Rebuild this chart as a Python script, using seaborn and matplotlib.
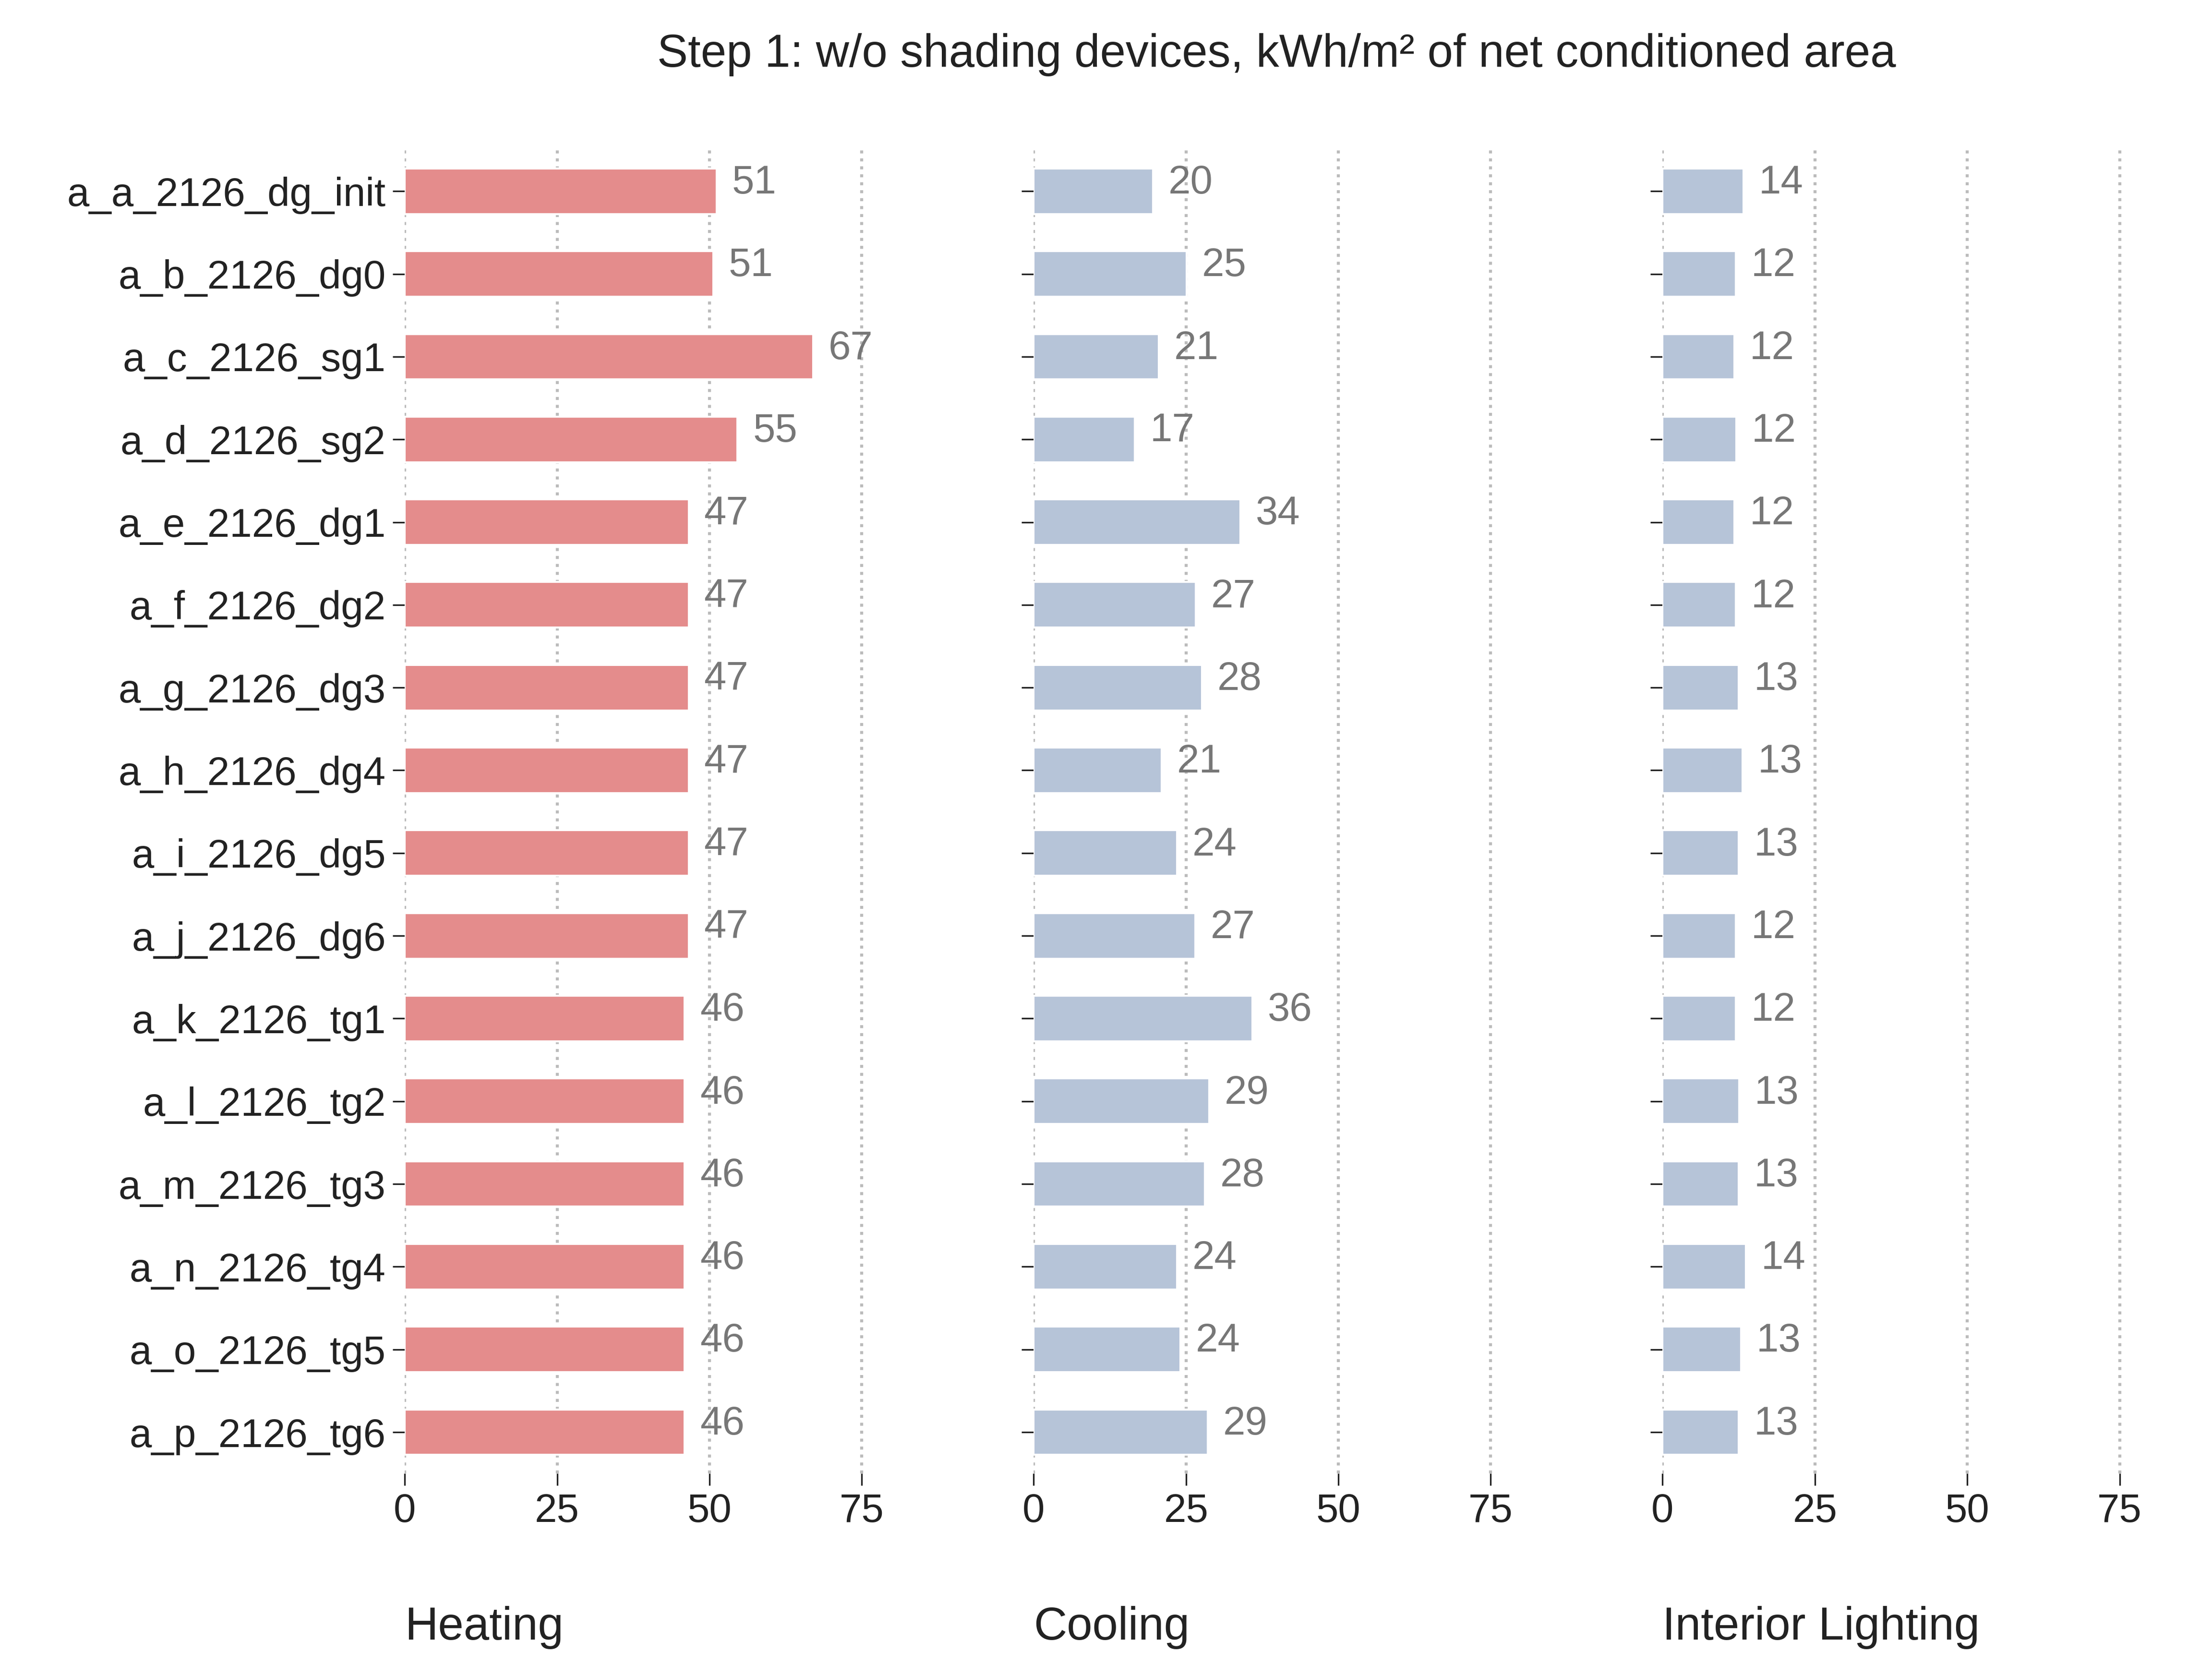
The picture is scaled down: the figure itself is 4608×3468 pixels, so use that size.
import matplotlib
matplotlib.use("Agg")
import matplotlib.pyplot as plt
import seaborn as sns
import pandas as pd

cases = ["a_a_2126_dg_init","a_b_2126_dg0","a_c_2126_sg1","a_d_2126_sg2","a_e_2126_dg1",
         "a_f_2126_dg2","a_g_2126_dg3","a_h_2126_dg4","a_i_2126_dg5","a_j_2126_dg6",
         "a_k_2126_tg1","a_l_2126_tg2","a_m_2126_tg3","a_n_2126_tg4","a_o_2126_tg5","a_p_2126_tg6"]
heating = [51.2,50.6,67.0,54.6,46.6,46.6,46.6,46.6,46.6,46.6,45.9,45.9,45.9,45.9,45.9,45.9]
cooling = [19.6,25.1,20.5,16.6,33.9,26.6,27.6,21.0,23.5,26.5,35.9,28.8,28.1,23.5,24.1,28.6]
lighting = [13.3,12.0,11.8,12.1,11.8,12.0,12.5,13.1,12.5,12.0,12.0,12.6,12.5,13.7,12.9,12.5]
heating_lbl = [51,51,67,55,47,47,47,47,47,47,46,46,46,46,46,46]
cooling_lbl = [20,25,21,17,34,27,28,21,24,27,36,29,28,24,24,29]
lighting_lbl = [14,12,12,12,12,12,13,13,13,12,12,13,13,14,13,13]
panels = ["Heating","Cooling","Interior Lighting"]
colors = ["#e48c8c","#b6c4d8","#b6c4d8"]

sns.set_style("ticks")
plt.rcParams['font.family'] = ['Arial', 'Liberation Sans', 'DejaVu Sans']

df = pd.DataFrame({"case": cases, "Heating": heating, "Cooling": cooling, "Interior Lighting": lighting})
labels = {"Heating": heating_lbl, "Cooling": cooling_lbl, "Interior Lighting": lighting_lbl}

fig, axes = plt.subplots(1, 3, figsize=(15.36, 11.56), dpi=300, sharey=True)
fig.subplots_adjust(left=0.183, right=0.972, top=0.91, bottom=0.115, wspace=0.29)
for ax, name, c in zip(axes, panels, colors):
    sns.barplot(data=df, y="case", x=name, color=c, saturation=1, width=0.55, ax=ax, orient="h")
    ax.set_xlim(0, 80)
    ax.set_xticks([0, 25, 50, 75])
    ax.xaxis.grid(True, linestyle=":", color="#bbbbbb", linewidth=1.5)
    ax.set_axisbelow(True)
    for s in ax.spines.values():
        s.set_visible(False)
    ax.tick_params(axis="both", labelsize=20, colors="#222222", length=6)
    ax.set_xlabel(name, fontsize=23, loc="left", labelpad=38, color="#222222")
    ax.set_ylabel("")
    for i, (v, l) in enumerate(zip(df[name], labels[name])):
        ax.text(v + 2.5, i - 0.1, f"{l}", color="#777777", fontsize=20, va="center")
fig.suptitle("Step 1: w/o shading devices, kWh/m² of net conditioned area", fontsize=23,
             x=0.577, y=0.98, color="#222222")
fig.savefig("out.png", dpi=300)
